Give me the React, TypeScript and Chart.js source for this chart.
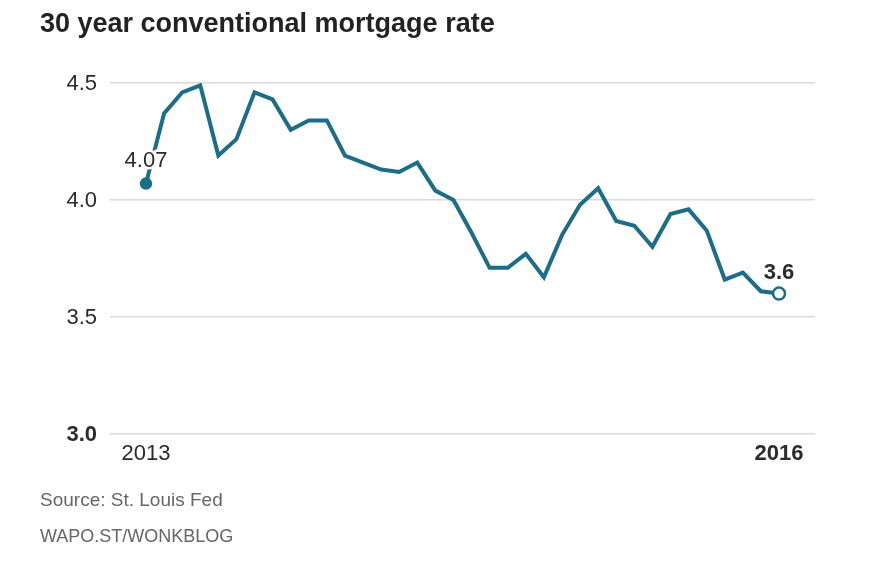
import React, { useEffect, useRef } from "react";
import { Chart, registerables } from "chart.js";

Chart.register(...registerables);

const months: number[] = Array.from({ length: 36 }, (_, i) => i);
const rates: number[] = [
  4.07, 4.37, 4.46, 4.49, 4.19, 4.26, 4.46, 4.43, 4.3, 4.34, 4.34, 4.19,
  4.16, 4.13, 4.12, 4.16, 4.04, 4.0, 3.86, 3.71, 3.71, 3.77, 3.67, 3.85,
  3.98, 4.05, 3.91, 3.89, 3.8, 3.94, 3.96, 3.87, 3.66, 3.69, 3.61, 3.6,
];
const yTicks: number[] = [4.5, 4.0, 3.5, 3.0];
const yTickLabels: string[] = ["4.5", "4.0", "3.5", "3.0"];
const xLabels: string[] = ["2013", "2016"];
const startLabel = "4.07";
const endLabel = "3.6";

const LINE = "#1b6d88";
const TEXT = "#2b2b2b";
const FONT = "'Liberation Sans', Arial, sans-serif";

export default function App() {
  const ref = useRef<HTMLCanvasElement | null>(null);

  useEffect(() => {
    document.body.style.margin = "0";
    const canvas = ref.current;
    if (!canvas) return;
    const last = rates.length - 1;

    const labelsPlugin = {
      id: "customLabels",
      afterDatasetsDraw(chart: any) {
        const ctx = chart.ctx;
        const ys = chart.scales.y;
        const xs = chart.scales.x;
        ctx.save();
        // y tick labels
        ctx.textAlign = "right";
        ctx.textBaseline = "middle";
        yTicks.forEach((v, i) => {
          ctx.font = (v === 3.0 ? "bold " : "") + "22px " + FONT;
          ctx.fillStyle = TEXT;
          ctx.fillText(yTickLabels[i], 97, ys.getPixelForValue(v) + 1);
        });
        // x labels
        ctx.textAlign = "center";
        const xb = ys.getPixelForValue(3.0) + 20;
        ctx.font = "22px " + FONT;
        ctx.fillText(xLabels[0], xs.getPixelForValue(0), xb);
        ctx.font = "bold 22px " + FONT;
        ctx.fillText(xLabels[1], xs.getPixelForValue(last), xb);
        // point annotations
        ctx.lineJoin = "round";
        ctx.font = "22px " + FONT;
        const sx = xs.getPixelForValue(0);
        const sy = ys.getPixelForValue(rates[0]) - 23;
        ctx.strokeStyle = "#ffffff";
        ctx.lineWidth = 5;
        ctx.strokeText(startLabel, sx, sy);
        ctx.fillStyle = TEXT;
        ctx.fillText(startLabel, sx, sy);
        ctx.font = "bold 22px " + FONT;
        const ex = xs.getPixelForValue(last);
        const ey = ys.getPixelForValue(rates[last]) - 21;
        ctx.strokeText(endLabel, ex, ey);
        ctx.fillText(endLabel, ex, ey);
        ctx.restore();
      },
    };

    const chart = new Chart(canvas, {
      type: "line",
      data: {
        datasets: [
          {
            data: months.map((m, i) => ({ x: m, y: rates[i] })),
            borderColor: LINE,
            borderWidth: 4,
            borderJoinStyle: "miter",
            tension: 0,
            pointRadius: (c: any) => (c.dataIndex === 0 ? 5 : c.dataIndex === last ? 6 : 0),
            pointBackgroundColor: (c: any) => (c.dataIndex === 0 ? LINE : "#ffffff"),
            pointBorderColor: LINE,
            pointBorderWidth: 2.5,
          },
        ],
      },
      options: {
        animation: false,
        responsive: false,
        maintainAspectRatio: false,
        layout: { padding: { left: 110, right: 54, top: 83, bottom: 134 } },
        plugins: { legend: { display: false }, tooltip: { enabled: false } },
        scales: {
          x: {
            type: "linear",
            min: -1.99,
            max: 36.99,
            display: false,
          },
          y: {
            min: 3.0,
            max: 4.5,
            display: true,
            border: { display: false },
            ticks: { display: false, stepSize: 0.5 },
            grid: { color: "#d9d9d9", lineWidth: 1.5, drawTicks: false },
          },
        },
      },
      plugins: [labelsPlugin],
    });
    return () => chart.destroy();
  }, []);

  return (
    <div style={{ position: "relative", width: 869, height: 568, background: "#fff", overflow: "hidden" }}>
      <canvas ref={ref} width={869} height={568} style={{ position: "absolute", left: 0, top: 0 }} />
      <div
        style={{
          position: "absolute",
          left: 40,
          top: 8,
          fontFamily: FONT,
          fontWeight: 700,
          fontSize: 27,
          color: "#222",
          whiteSpace: "nowrap",
        }}
      >
        30 year conventional mortgage rate
      </div>
      <div
        style={{
          position: "absolute",
          left: 40,
          top: 489,
          fontFamily: FONT,
          fontSize: 19,
          color: "#666",
          whiteSpace: "nowrap",
        }}
      >
        Source: St. Louis Fed
      </div>
      <div
        style={{
          position: "absolute",
          left: 40,
          top: 526,
          fontFamily: FONT,
          fontSize: 18,
          color: "#666",
          whiteSpace: "nowrap",
        }}
      >
        WAPO.ST/WONKBLOG
      </div>
    </div>
  );
}
